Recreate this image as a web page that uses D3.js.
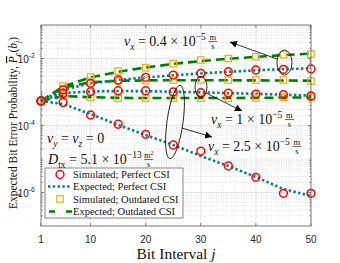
<!DOCTYPE html>
<html><head><meta charset="utf-8">
<script src="https://cdn.jsdelivr.net/npm/d3@7"></script>
<style>body{margin:0;background:#fff}</style>
</head><body>
<svg id="c" width="340" height="263"></svg>
<script>
// ---- data ----
const bitIntervals = [1,5,10,15,20,25,30,35,40,45,50];
// vx = 0.4e-5
const simPerfectA   = [5.4e-4,1.15e-3,1.82e-3,2.28e-3,2.75e-3,3.21e-3,3.61e-3,4.03e-3,4.54e-3,4.76e-3,4.86e-3];
const expPerfectA   = [5.4e-4,1.18e-3,1.80e-3,2.30e-3,2.72e-3,3.15e-3,3.58e-3,4.00e-3,4.45e-3,4.80e-3,5.10e-3];
const simOutdatedA  = [5.4e-4,1.50e-3,2.80e-3,4.20e-3,5.30e-3,7.00e-3,9.00e-3,1.00e-2,1.13e-2,1.30e-2,1.36e-2];
const expOutdatedA  = [5.4e-4,1.45e-3,2.75e-3,4.00e-3,5.40e-3,6.90e-3,8.40e-3,9.80e-3,1.12e-2,1.26e-2,1.40e-2];
// vx = 1e-5
const simPerfectB   = [5.4e-4,9.1e-4,1.02e-3,1.09e-3,1.09e-3,1.00e-3,9.5e-4,9.3e-4,8.7e-4,8.3e-4,7.6e-4];
const expPerfectB   = [5.4e-4,9.3e-4,1.04e-3,1.07e-3,1.06e-3,1.02e-3,9.8e-4,9.3e-4,8.8e-4,8.3e-4,7.8e-4];
const simOutdatedB  = [5.4e-4,1.21e-3,2.13e-3,2.13e-3,2.17e-3,2.28e-3,2.28e-3,2.28e-3,2.28e-3,2.28e-3,2.13e-3];
const expOutdatedB  = [5.4e-4,1.35e-3,1.95e-3,2.15e-3,2.22e-3,2.25e-3,2.25e-3,2.24e-3,2.22e-3,2.20e-3,2.17e-3];
// vx = 2.5e-5
const simPerfectC   = [5.4e-4,4.86e-4,2.06e-4,1.09e-4,5.46e-5,2.62e-5,1.73e-5,6.18e-6,2.84e-6,9.46e-7,9.46e-7];
const expPerfectC   = [5.4e-4,4.38e-4,2.20e-4,1.04e-4,5.20e-5,2.62e-5,1.23e-5,6.18e-6,2.90e-6,1.27e-6,7.87e-7];
const simOutdatedC  = [5.4e-4,8.1e-4,6.95e-4,6.5e-4,6.5e-4,6.6e-4,6.5e-4,6.5e-4,6.6e-4,6.87e-4,6.95e-4];
const expOutdatedC  = [5.4e-4,7.6e-4,7.0e-4,6.7e-4,6.6e-4,6.6e-4,6.6e-4,6.6e-4,6.7e-4,6.8e-4,6.9e-4];

const xTicks = [1,10,20,30,40,50];
const yTickExps = [-2,-4,-6];
const legendLabels = ["Simulated; Perfect CSI","Expected; Perfect CSI","Simulated; Outdated CSI","Expected; Outdated CSI"];

// ---- setup ----
const svg = d3.select('#c');
const M = {l:41, r:311, t:25, b:226};
const x = d3.scaleLinear().domain([1,50]).range([M.l,M.r]);
const y = d3.scaleLog().domain([1e-7,1e-1]).range([M.b,M.t]);
const SERIF = "'Liberation Serif','DejaVu Serif',serif";
const SANS = "'Liberation Sans',Arial,sans-serif";
const RED='#ff0000', ORANGE='#EDB120', TEAL='#008080', GREEN='#008000';

svg.append('rect').attr('x',M.l).attr('y',M.t).attr('width',M.r-M.l).attr('height',M.b-M.t).attr('fill','#fff');

// grid
const grid = svg.append('g');
const minorY = [];
for (let d=-7; d<=-2; d++) for (let k=1;k<=9;k++){ const v=k*Math.pow(10,d); if(k===1 && d%2===0) continue; if (v>1e-7 && v<1e-1) minorY.push(v); }
grid.selectAll('.my').data(minorY).join('line')
  .attr('x1',M.l).attr('x2',M.r).attr('y1',d=>y(d)).attr('y2',d=>y(d))
  .attr('stroke','#cfcfcf').attr('stroke-width',0.6).attr('stroke-dasharray','1,1.5');
const minorX = d3.range(2,50,2).filter(v=>v%10!==0);
grid.selectAll('.mx').data(minorX).join('line')
  .attr('y1',M.t).attr('y2',M.b).attr('x1',d=>x(d)).attr('x2',d=>x(d))
  .attr('stroke','#dcdcdc').attr('stroke-width',0.6).attr('stroke-dasharray','1,1.5');
grid.selectAll('.Y').data(yTickExps).join('line')
  .attr('x1',M.l).attr('x2',M.r).attr('y1',d=>y(Math.pow(10,d))).attr('y2',d=>y(Math.pow(10,d)))
  .attr('stroke','#e0e0e0').attr('stroke-width',0.8);
grid.selectAll('.X').data(xTicks.slice(1,-1)).join('line')
  .attr('y1',M.t).attr('y2',M.b).attr('x1',d=>x(d)).attr('x2',d=>x(d))
  .attr('stroke','#e0e0e0').attr('stroke-width',0.8);

// ticks (inward, both sides)
const tk = svg.append('g').attr('stroke','#404040').attr('stroke-width',0.6);
xTicks.forEach(v=>{ tk.append('line').attr('x1',x(v)).attr('x2',x(v)).attr('y1',M.b).attr('y2',M.b-3);
                    tk.append('line').attr('x1',x(v)).attr('x2',x(v)).attr('y1',M.t).attr('y2',M.t+3); });
for (let d=-7; d<=-2; d++) for (let k=1;k<=9;k++){ const v=k*Math.pow(10,d); if (v<=1e-7||v>=1e-1) continue;
  const L = (k===1 && d%2===0)?3:1.6;
  tk.append('line').attr('x1',M.l).attr('x2',M.l+L).attr('y1',y(v)).attr('y2',y(v));
  tk.append('line').attr('x1',M.r).attr('x2',M.r-L).attr('y1',y(v)).attr('y2',y(v)); }

// tick labels
svg.append('g').selectAll('text').data(xTicks).join('text')
  .attr('x',d=>x(d)).attr('y',243).attr('text-anchor','middle')
  .attr('font-family',SANS).attr('font-size',10).attr('fill','#262626').text(d=>d);
yTickExps.forEach(e=>{
  const t = svg.append('text').attr('x',35).attr('y',y(Math.pow(10,e))+4).attr('text-anchor','end')
    .attr('font-family',SANS).attr('font-size',10).attr('fill','#262626');
  t.append('tspan').text('10');
  t.append('tspan').attr('dy',-4.5).attr('font-size',7).text('-'+(-e));
});

// series
const line = d3.line().x((d,i)=>x(bitIntervals[i])).y(d=>y(d));
const dotted = [expPerfectA, expPerfectB, expPerfectC];
const dashed = [expOutdatedA, expOutdatedB, expOutdatedC];
const lines = svg.append('g').attr('fill','none');
dashed.forEach(s=>lines.append('path').attr('d',line(s)).attr('stroke',GREEN).attr('stroke-width',2.6).attr('stroke-dasharray','9,5'));
dotted.forEach(s=>lines.append('path').attr('d',line(s)).attr('stroke',TEAL).attr('stroke-width',2.6).attr('stroke-dasharray','2.4,2.4'));
const mk = svg.append('g').attr('fill','none');
[simOutdatedA, simOutdatedB, simOutdatedC].forEach(s=>{
  mk.selectAll(null).data(s).join('rect')
    .attr('x',(d,i)=>x(bitIntervals[i])-3.2).attr('y',d=>y(d)-3.2).attr('width',6.4).attr('height',6.4)
    .attr('stroke',ORANGE).attr('stroke-width',1.3);
});
[simPerfectA, simPerfectB, simPerfectC].forEach(s=>{
  mk.selectAll(null).data(s).join('circle')
    .attr('cx',(d,i)=>x(bitIntervals[i])).attr('cy',d=>y(d)).attr('r',3.9)
    .attr('stroke',RED).attr('stroke-width',1.5);
});

// frame
svg.append('rect').attr('x',M.l).attr('y',M.t).attr('width',M.r-M.l).attr('height',M.b-M.t)
  .attr('fill','none').attr('stroke','#555').attr('stroke-width',0.8);

// math text helper
function mtext(g, x0, y0, parts, fs){
  const t = g.append('text').attr('x',x0).attr('y',y0).attr('font-family',SERIF).attr('font-size',fs).attr('fill','#111');
  let cur = 0;
  parts.forEach(([s,kind])=>{
    const sp = t.append('tspan').text(s);
    let target = 0;
    if (kind==='sub'){ target = fs*0.25; sp.attr('font-size',fs*0.68).attr('font-style', 'italic'); }
    else if (kind==='subr'){ target = fs*0.25; sp.attr('font-size',fs*0.68); }
    else if (kind==='sup'){ target = -fs*0.42; sp.attr('font-size',fs*0.68); }
    else if (kind==='i'){ sp.attr('font-style','italic'); }
    sp.attr('dy', target-cur); cur = target;
  });
  return t;
}
function frac(g, x0, yb, num, den, fs){
  const a = g.append('text').attr('x',x0).attr('y',yb-6.5).attr('text-anchor','middle')
    .attr('font-family',SERIF).attr('font-size',fs).attr('fill','#111');
  a.append('tspan').text(num[0]);
  if (num[1]) a.append('tspan').attr('dy',-3).attr('font-size',fs*0.7).text(num[1]);
  g.append('line').attr('x1',x0-4.5).attr('x2',x0+4.5).attr('y1',yb-4.5).attr('y2',yb-4.5).attr('stroke','#111').attr('stroke-width',0.6);
  g.append('text').attr('x',x0).attr('y',yb+2.5).attr('text-anchor','middle')
    .attr('font-family',SERIF).attr('font-size',fs).attr('fill','#111').text(den);
}
const ann = svg.append('g');
function vlabel(x0, yb, val){
  const t = mtext(ann, x0, yb, [['v','i'],['x','sub'],[' = '+val+' × 10','n'],['−5','sup']], 14);
  const w = t.node().getComputedTextLength();
  frac(ann, x0+w+7, yb, ['m'], 's', 8.5);
}
vlabel(124, 46, '0.4');
vlabel(211, 124, '1');
vlabel(208, 151, '2.5');
mtext(ann, 47, 143, [['v','i'],['y','sub'],['  =  ','n'],['v','i'],['z','sub'],['  =  0','n']], 14);
{
  const t = mtext(ann, 48, 164, [['D','i'],['tx','subr'],[' = 5.1 × 10','n'],['−13','sup']], 14);
  const w = t.node().getComputedTextLength();
  frac(ann, 48+w+7, 164, ['m','2'], 's', 8.5);
}

// ellipses and arrows
svg.append('defs').append('marker').attr('id','ah').attr('viewBox','0 0 10 10').attr('refX',10).attr('refY',5)
  .attr('markerWidth',7).attr('markerHeight',7).attr('orient','auto-start-reverse').attr('markerUnits','userSpaceOnUse')
  .append('path').attr('d','M0,0 L10,5 L0,10 z').attr('fill','#000');
const an = svg.append('g').attr('fill','none').attr('stroke','#000').attr('stroke-width',0.8);
an.append('ellipse').attr('cx',284.5).attr('cy',62.5).attr('rx',7.5).attr('ry',12.5);
an.append('line').attr('x1',277).attr('y1',59).attr('x2',230).attr('y2',42).attr('marker-end','url(#ah)');
an.append('ellipse').attr('cx',201).attr('cy',87).attr('rx',6).attr('ry',10.5);
an.append('line').attr('x1',206).attr('y1',93).attr('x2',242).attr('y2',111).attr('marker-end','url(#ah)');
an.append('ellipse').attr('cx',0).attr('cy',0).attr('rx',8).attr('ry',37).attr('transform','translate(175,122) rotate(8)');
an.append('line').attr('x1',182).attr('y1',128).attr('x2',212).attr('y2',137).attr('marker-end','url(#ah)');

// legend
const lg = svg.append('g');
lg.append('rect').attr('x',45).attr('y',168).attr('width',138).attr('height',50).attr('fill','#fff').attr('stroke','#333').attr('stroke-width',0.6);
const rows = [174.5,186.5,199,211.5];
legendLabels.forEach((s,i)=>{
  lg.append('text').attr('x',73).attr('y',rows[i]+3.5).attr('font-family',SERIF).attr('font-size',10.5).attr('fill','#111').text(s);
});
lg.append('circle').attr('cx',60).attr('cy',rows[0]).attr('r',3.9).attr('fill','none').attr('stroke',RED).attr('stroke-width',1.5);
lg.append('line').attr('x1',48).attr('x2',71).attr('y1',rows[1]).attr('y2',rows[1]).attr('stroke',TEAL).attr('stroke-width',2.6).attr('stroke-dasharray','2.4,2.4');
lg.append('rect').attr('x',56.8).attr('y',rows[2]-3.2).attr('width',6.4).attr('height',6.4).attr('fill','none').attr('stroke',ORANGE).attr('stroke-width',1.3);
lg.append('line').attr('x1',49).attr('x2',72).attr('y1',rows[3]).attr('y2',rows[3]).attr('stroke',GREEN).attr('stroke-width',2.6).attr('stroke-dasharray','6,11');

// axis labels
{
  const t = svg.append('text').attr('x',0).attr('y',0).attr('transform','translate(17,123) rotate(-90)')
    .attr('text-anchor','middle').attr('font-family',SERIF).attr('font-size',11.5).attr('fill','#111');
  t.append('tspan').text('Expected Bit Error Probability, ');
  t.append('tspan').attr('font-style','italic').attr('text-decoration','overline').text('P');
  t.append('tspan').attr('font-style','italic').attr('font-size',8).attr('dy',2.5).text('e');
  t.append('tspan').attr('dy',-2.5).text('(');
  t.append('tspan').attr('font-style','italic').text('b');
  t.append('tspan').attr('font-style','italic').attr('font-size',8).attr('dy',2.5).text('j');
  t.append('tspan').attr('dy',-2.5).text(')');
}
{
  const t = svg.append('text').attr('x',176).attr('y',259).attr('text-anchor','middle')
    .attr('font-family',SERIF).attr('font-size',15.5).attr('fill','#111');
  t.append('tspan').text('Bit Interval ');
  t.append('tspan').attr('font-style','italic').text('j');
}
</script>
</body></html>
